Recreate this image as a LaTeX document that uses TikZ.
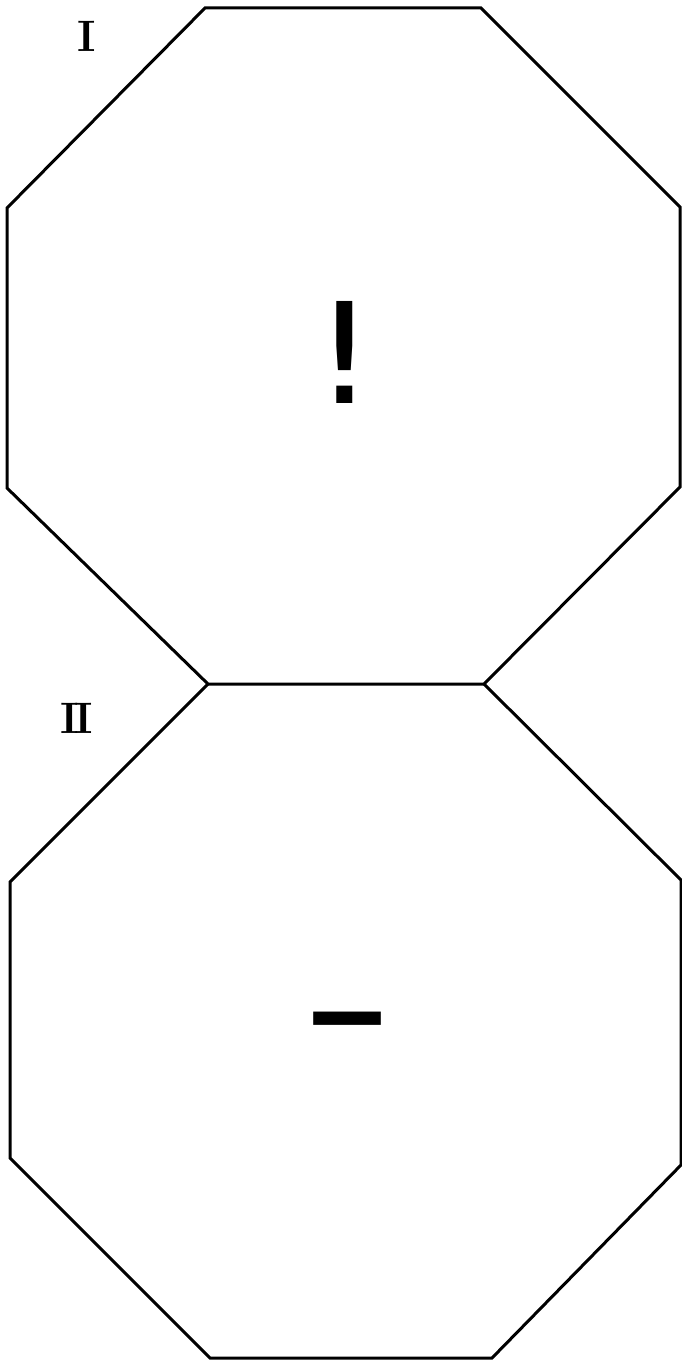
\documentclass[tikz,border=0pt]{standalone}
\usepackage{fontspec}
\newfontfamily\signfont{DejaVu Sans}
\tikzset{
  plate/.style={line width=3pt, line join=miter},
  numeral/.style={inner sep=0pt, font=\bfseries\fontsize{44}{44}\selectfont},
  sign/.style={inner sep=0pt, font=\signfont\fontsize{140}{140}\selectfont}
}
\begin{document}
\begin{tikzpicture}[x=1pt,y=-1pt]
  \useasboundingbox (0,0) rectangle (681,1362);
  % upper plate
  \draw[plate] (205,8) -- (481,8) -- (680,207) -- (680,487) -- (484,684)
    -- (208,684) -- (7,488) -- (7,208) -- cycle;
  % lower plate, sharing the edge at y=684
  \draw[plate] (208,684) -- (10,882) -- (10,1158) -- (210,1358) -- (492,1358)
    -- (681,1165) -- (681,880) -- (484,684);
  \node[numeral] (one) at (87,36) {I};
  \node[numeral] (two) at (77,718) {I\kern-0.1em I};
  \node[sign] (bang) at (345,352) {\scalebox{1.15}[1]{!}};
  \node[sign, anchor=base] (dash) at (347,1070) {\scalebox{1.2}[1.35]{–}};
\end{tikzpicture}
\end{document}
